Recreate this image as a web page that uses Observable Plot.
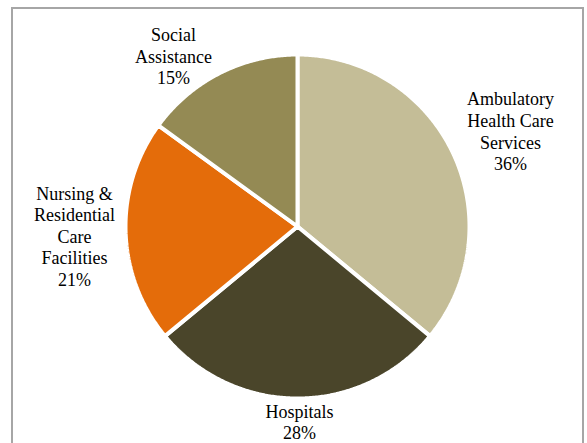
<!DOCTYPE html>
<html><head><meta charset="utf-8">
<script src="https://cdn.jsdelivr.net/npm/d3@7"></script>
<script src="https://cdn.jsdelivr.net/npm/@observablehq/plot@0.6"></script>
<style>
body{margin:0;overflow:hidden;background:#fff}
#frame{position:absolute;left:10.5px;top:6.5px;width:573px;height:480px;border:2px solid #a6a6a6;box-sizing:border-box}
#chart{position:absolute;left:0;top:0}
</style>
</head><body><div id="frame"></div><div id="chart"></div>
<script>
// Data
const categories = ["Ambulatory\nHealth Care\nServices", "Hospitals", "Nursing &\nResidential\nCare\nFacilities", "Social\nAssistance"];
const shares = [36, 28, 21, 15];
const colors = ["#c4bd97", "#4a452a", "#e46c0a", "#948a54"];

// Layout (label distance from center in radii, angular nudge in degrees)
const labelRadius = [1.373, 1.148, 1.313, 1.242];
const labelNudge = [1, -0.6, -0.6, -9];

const W = 587, H = 443, cx = 297, cy = 226, R = 172;
const total = d3.sum(shares);
const slices = [];
let acc = 0;
shares.forEach((v, i) => {
  const a0 = acc / total * 2 * Math.PI;
  acc += v;
  const a1 = acc / total * 2 * Math.PI;
  slices.push({i, a0, a1, mid: (a0 + a1) / 2});
});

const pts = [];
for (const s of slices) {
  pts.push({k: s.i, x: 0, y: 0, c: colors[s.i]});
  const n = Math.max(2, Math.ceil((s.a1 - s.a0) / (Math.PI / 360)));
  for (let j = 0; j <= n; j++) {
    const a = s.a0 + (s.a1 - s.a0) * j / n;
    pts.push({k: s.i, x: Math.sin(a), y: -Math.cos(a), c: colors[s.i]});
  }
  pts.push({k: s.i, x: 0, y: 0, c: colors[s.i]});
}

const labels = slices.map(s => {
  const a = s.mid + labelNudge[s.i] * Math.PI / 180;
  const r = labelRadius[s.i] * 170 / R;
  return {x: r * Math.sin(a), y: -r * Math.cos(a), t: categories[s.i] + "\n" + shares[s.i] + "%"};
});

const chart = Plot.plot({
  width: W, height: H, margin: 0,
  x: {domain: [-cx / R, (W - cx) / R], range: [0, W], axis: null},
  y: {domain: [-cy / R, (H - cy) / R], range: [0, H], axis: null},
  color: {type: "identity"},
  style: {background: "transparent"},
  marks: [
    Plot.line(pts, {x: "x", y: "y", z: "k", fill: "c", stroke: "white", strokeWidth: 4, strokeLinejoin: "miter"}),
    Plot.text(labels, {x: "x", y: "y", text: "t", fontSize: 18, fontFamily: "Liberation Serif", lineHeight: 1.2, fill: "#000"})
  ]
});
document.getElementById("chart").appendChild(chart);
</script>
</body></html>
